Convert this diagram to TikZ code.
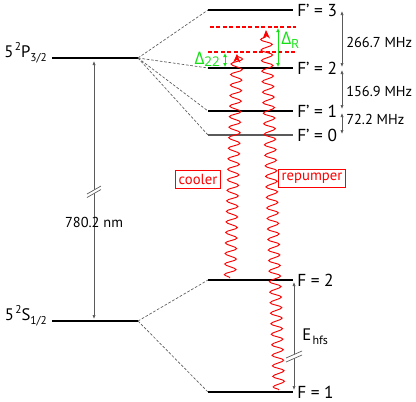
\documentclass[tikz,border=0pt]{standalone}
\usepackage{fontspec}
\setmainfont{PT Sans}
\newfontfamily\grk{Open Sans}
\usetikzlibrary{arrows.meta,decorations.pathmorphing}
\definecolor{mygreen}{RGB}{20,225,20}
\definecolor{lgray}{RGB}{90,90,90}
\begin{document}
\begin{tikzpicture}[x=0.75pt,y=-0.75pt,
  lvl/.style={line width=0.8pt,black},
  fan/.style={lgray,line width=0.5pt,dash pattern=on 2pt off 1.3pt},
  big/.style={font=\fontsize{12.5}{14}\selectfont,inner sep=0pt},
  lbl/.style={font=\fontsize{13}{14}\selectfont,inner sep=0pt},
  mhz/.style={font=\fontsize{10.8}{12}\selectfont,inner sep=0pt},
  gaparr/.style={lgray,line width=0.5pt,{Latex[length=3pt,width=2.4pt]}-{Latex[length=3pt,width=2.4pt]}},
  det/.style={red,line width=0.9pt,dash pattern=on 3pt off 1.8pt},
  garr/.style={mygreen,line width=0.7pt,{Latex[length=3pt,width=3pt]}-{Latex[length=3pt,width=3pt]}},
  laser/.style={red,line width=0.7pt,decorate,decoration={snake,amplitude=4.3pt,segment length=7.9pt,post length=1pt},-{Stealth[length=6.5pt,width=5.5pt]}},
  tag/.style={draw=red,text=red,line width=0.6pt,inner xsep=2.2pt,inner ysep=2.6pt,font=\fontsize{11}{12}\selectfont},
  brk/.style={lgray,line width=0.5pt}
]
\useasboundingbox (0,0) rectangle (416,401);

% fine-structure levels
\coordinate (PL) at (52,58);  \coordinate (PR) at (138,58);
\coordinate (SL) at (52,321); \coordinate (SR) at (138,321);
\draw[lvl] (PL) -- (PR);
\draw[lvl] (SL) -- (SR);
\node[big,anchor=base east] (Plab) at (47,57) {5\kern1pt\raisebox{5pt}{\fontsize{8.5}{9}\selectfont 2}P\raisebox{-3pt}{\fontsize{8.5}{9}\selectfont 3/2}};
\node[big,anchor=base east] (Slab) at (47,320) {5\kern1pt\raisebox{5pt}{\fontsize{8.5}{9}\selectfont 2}S\raisebox{-3pt}{\fontsize{8.5}{9}\selectfont 1/2}};

% hyperfine levels
\coordinate (F3L) at (208,10);  \coordinate (F3R) at (293,10);
\coordinate (F2L) at (208,68);  \coordinate (F2R) at (293,68);
\coordinate (F1L) at (208,111); \coordinate (F1R) at (293,111);
\coordinate (F0L) at (208,135); \coordinate (F0R) at (293,135);
\coordinate (G2L) at (208,280); \coordinate (G2R) at (293,280);
\coordinate (G1L) at (208,392); \coordinate (G1R) at (293,392);
\draw[lvl] (F3L) -- (F3R);
\draw[lvl] (F2L) -- (F2R);
\draw[lvl] (F1L) -- (F1R);
\draw[lvl,lgray] (F0L) -- (F0R);
\draw[lvl] (G2L) -- (G2R);
\draw[lvl] (G1L) -- (G1R);

\foreach \t in {F3L,F2L,F1L,F0L} \draw[fan] (PR) -- (\t);
\foreach \t in {G2L,G1L} \draw[fan] (SR) -- (\t);

\node[lbl,anchor=west] (f3) at (297,10) {F' = 3};
\node[lbl,anchor=west] (f2) at (297,68) {F' = 2};
\node[lbl,anchor=west] (f1) at (297,111) {F' = 1};
\node[lbl,anchor=west] (f0) at (297,135) {F' = 0};
\node[lbl,anchor=west] (g2) at (297,280) {F = 2};
\node[lbl,anchor=west] (g1) at (297,392) {F = 1};

% splittings on the right
\coordinate (a3) at (342,11);  \coordinate (a2t) at (342,67);
\coordinate (a2b) at (342,70); \coordinate (a1t) at (342,109);
\coordinate (a1b) at (342,113); \coordinate (a0) at (342,134);
\draw[gaparr] (a3) -- (a2t);
\draw[gaparr] (a2b) -- (a1t);
\draw[gaparr] (a1b) -- (a0);
\node[mhz,anchor=west] (m1) at (346,42) {266.7 MHz};
\node[mhz,anchor=west] (m2) at (346,91) {156.9 MHz};
\node[mhz,anchor=west] (m3) at (346,119) {72.2 MHz};

% optical transition
\coordinate (opt1) at (94,61); \coordinate (opt2) at (94,319);
\draw[gaparr] (opt1) -- (opt2);
\fill[white] (87,194) -- (101,186) -- (101,189.5) -- (87,197.5) -- cycle;
\draw[brk] (87,194) -- (101,186);
\draw[brk] (87,197.5) -- (101,189.5);
\node[mhz,anchor=center] (nm) at (94,222) {780.2 nm};

% ground hyperfine splitting
\coordinate (e1) at (294,282); \coordinate (e2) at (294,390);
\draw[gaparr] (e1) -- (e2);
\fill[white] (286,358) -- (302,351) -- (302,355) -- (286,362) -- cycle;
\draw[brk] (286,358) -- (302,351);
\draw[brk] (286,362) -- (302,355);
\node[anchor=west,inner sep=0pt] (eh) at (302,337) {\fontsize{12.5}{13}\selectfont E\kern1pt\raisebox{-3pt}{\fontsize{9}{9}\selectfont hfs}};

% detuned levels
\coordinate (dR1) at (210,27); \coordinate (dR2) at (296,27);
\coordinate (dC1) at (208,52); \coordinate (dC2) at (296,52);
\draw[det] (dR1) -- (dR2);
\draw[det] (dC1) -- (dC2);

% lasers
\coordinate (cS) at (230,278); \coordinate (cE) at (237,54);
\coordinate (rS) at (279,390); \coordinate (rE) at (266,30);
\draw[laser] (cS) -- (cE);
\draw[laser] (rS) -- (rE);

% detunings
\coordinate (d22a) at (225,53); \coordinate (d22b) at (225,67);
\coordinate (dRa) at (278,28);  \coordinate (dRb) at (278,67);
\draw[garr] (d22a) -- (d22b);
\draw[garr] (dRa) -- (dRb);
\node[anchor=base east,inner sep=0pt,text=mygreen] (D22) at (220,64) {\grk\fontsize{13}{14}\selectfont Δ\raisebox{-1.5pt}{\fontsize{10}{11}\selectfont 22}};
\node[anchor=base west,inner sep=0pt,text=mygreen] (DR) at (281,44) {\grk\fontsize{13}{14}\selectfont Δ\raisebox{-3pt}{\fontsize{9.5}{10}\selectfont R}};

% tags
\node[tag] (cool) at (198,179.5) {cooler};
\node[tag] (rep) at (312,178.5) {repumper};
\end{tikzpicture}
\end{document}
